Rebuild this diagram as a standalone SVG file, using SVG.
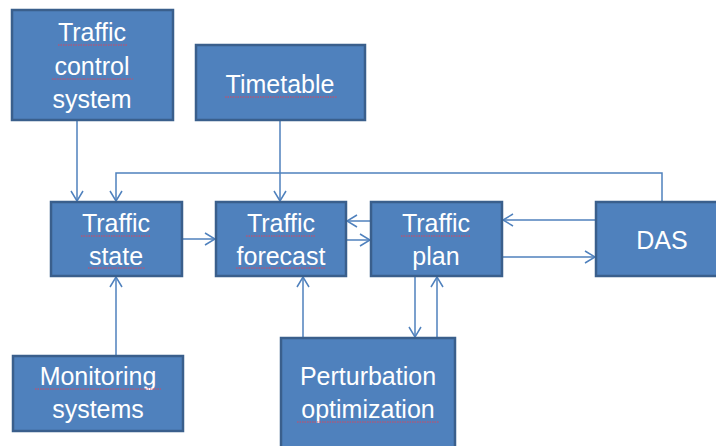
<svg xmlns="http://www.w3.org/2000/svg" width="716" height="446" viewBox="0 0 716 446">
<style>
.box{fill:#4F81BD;stroke:#3A5F8C;stroke-width:2.5}
.t{font-family:"Liberation Sans",Arial,sans-serif;font-size:25px;fill:#fff;text-anchor:middle}
.c{fill:none;stroke:#4F81BD;stroke-width:1.5}
.sq{fill:none;stroke:#D8475E;stroke-width:1;stroke-dasharray:1.5 1}
</style>
<defs>
<marker id="a" viewBox="0 0 12 14" refX="11" refY="7" markerWidth="12" markerHeight="14" markerUnits="userSpaceOnUse" orient="auto">
<path d="M1,1 L11,7 L1,13" fill="none" stroke="#4F81BD" stroke-width="1.5"/>
</marker>
</defs>
<rect width="716" height="446" fill="#fff"/>
<g id="connectors">
<path class="c" d="M77,120 V201" marker-end="url(#a)"/>
<path class="c" d="M280,120 V201" marker-end="url(#a)"/>
<path class="c" d="M662,202 V173 H116 V201" marker-end="url(#a)"/>
<path class="c" d="M182,239 H215" marker-end="url(#a)"/>
<path class="c" d="M371,221 H347" marker-end="url(#a)"/>
<path class="c" d="M346,240 H370" marker-end="url(#a)"/>
<path class="c" d="M596,220 H503" marker-end="url(#a)"/>
<path class="c" d="M502,257 H595" marker-end="url(#a)"/>
<path class="c" d="M116,356 V277" marker-end="url(#a)"/>
<path class="c" d="M303,338 V277" marker-end="url(#a)"/>
<path class="c" d="M415,276 V337" marker-end="url(#a)"/>
<path class="c" d="M437,338 V277" marker-end="url(#a)"/>
</g>
<g id="tcs">
<rect class="box" x="12" y="10" width="161" height="110"/>
<text class="t" x="92" y="41">Traffic</text>
<text class="t" x="92" y="75">control</text>
<text class="t" x="92" y="108">system</text>
<path class="sq" d="M58,45 H128 M52,79 H133"/>
</g>
<g id="timetable">
<rect class="box" x="196" y="45" width="169" height="75"/>
<text class="t" x="280" y="93">Timetable</text>
<path class="sq" d="M225,97 H337"/>
</g>
<g id="state">
<rect class="box" x="51" y="202" width="131" height="74"/>
<text class="t" x="116" y="232">Traffic</text>
<text class="t" x="116" y="265">state</text>
<path class="sq" d="M81,236 H151 M88,268 H145"/>
</g>
<g id="forecast">
<rect class="box" x="216" y="202" width="130" height="74"/>
<text class="t" x="281" y="232">Traffic</text>
<text class="t" x="281" y="265">forecast</text>
<path class="sq" d="M246,236 H316 M236,268 H326"/>
</g>
<g id="plan">
<rect class="box" x="371" y="202" width="131" height="74"/>
<text class="t" x="436" y="232">Traffic</text>
<text class="t" x="436" y="265">plan</text>
<path class="sq" d="M401,236 H471"/>
</g>
<g id="das">
<rect class="box" x="596" y="202" width="132" height="74"/>
<text class="t" x="662" y="249">DAS</text>
</g>
<g id="monitoring">
<rect class="box" x="13" y="356" width="170" height="75"/>
<text class="t" x="98" y="385">Monitoring</text>
<text class="t" x="98" y="418">systems</text>
<path class="sq" d="M35,389 H161"/>
</g>
<g id="perturbation">
<rect class="box" x="281" y="338" width="174" height="115"/>
<text class="t" x="368" y="385">Perturbation</text>
<text class="t" x="368" y="418">optimization</text>
<path class="sq" d="M297,422 H439"/>
</g>
</svg>
